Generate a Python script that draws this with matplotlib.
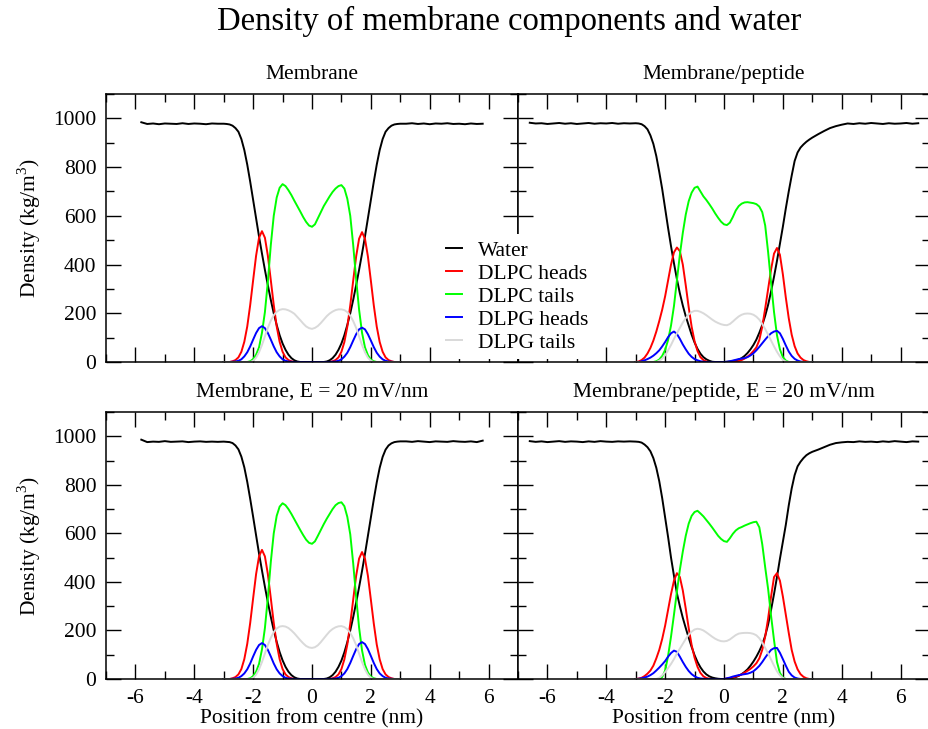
import numpy as np
import matplotlib.pyplot as plt
from matplotlib.lines import Line2D
from matplotlib.ticker import MultipleLocator

plt.rcParams['font.family'] = ['Liberation Serif', 'DejaVu Serif']
plt.rcParams['mathtext.fontset'] = 'custom'
plt.rcParams['mathtext.rm'] = 'Liberation Serif'
plt.rcParams['axes.unicode_minus'] = False

# sample positions (nm from bilayer centre)
x_mid = np.round(np.arange(-3.0, 3.01, 0.1), 1)
x_left_m = np.round(np.arange(-5.8, -3.1, 0.2), 1)
x_right_m = -x_left_m[::-1]
x_left_p = np.round(np.arange(-6.6, -3.1, 0.2), 1)
x_right_p = -x_left_p[::-1]

series_names = ['Water', 'DLPC heads', 'DLPC tails', 'DLPG heads', 'DLPG tails']
series_colors = ['black', 'red', '#00ff00', 'blue', '#d9d9d9']

# ---- Membrane ----
m_water_l = [984, 977, 979, 976, 979, 978, 977, 980, 977, 979, 978, 976, 979, 978]
m_water = [978, 977, 975, 970, 960, 945, 915, 870, 810, 740,
           665, 590, 515, 445, 378, 315, 255, 200, 152, 110,
           76, 50, 30, 16, 7, 2, 0, 0, 0, 0,
           0, 0, 0, 0, 0, 2, 7, 16, 30, 50,
           76, 110, 152, 200, 255, 315, 378, 445, 515, 590,
           665, 740, 810, 870, 915, 945, 960, 970, 975, 977,
           978]
m_water_r = [978, 980, 977, 979, 976, 979, 978, 980, 977, 978, 976, 979, 977, 978]
m_pc_heads = [0, 0, 0, 3, 8, 19, 42, 83, 146, 234,
              336, 436, 510, 537, 510, 436, 336, 234, 146, 83,
              42, 19, 8, 3, 0, 0, 0, 0, 0, 0,
              0, 0, 0, 0, 0, 0, 0, 3, 8, 19,
              42, 82, 145, 232, 334, 433, 506, 533, 506, 433,
              334, 232, 145, 82, 42, 19, 8, 3, 0, 0,
              0]
m_pc_tails = [0, 0, 0, 0, 0, 0, 0, 0, 0, 3,
              12, 30, 60, 120, 205, 330, 480, 600, 675, 715,
              730, 722, 705, 685, 662, 640, 618, 595, 575, 560,
              555, 565, 590, 615, 640, 660, 680, 698, 712, 722,
              726, 712, 670, 600, 480, 340, 215, 120, 60, 28,
              10, 3, 0, 0, 0, 0, 0, 0, 0, 0,
              0]
m_pg_heads = [0, 0, 0, 1, 2, 5, 11, 23, 40, 64,
              92, 119, 139, 147, 139, 119, 92, 64, 40, 23,
              11, 5, 2, 1, 0, 0, 0, 0, 0, 0,
              0, 0, 0, 0, 0, 0, 0, 1, 2, 5,
              11, 22, 38, 61, 88, 114, 134, 141, 134, 114,
              88, 61, 38, 22, 11, 5, 2, 1, 0, 0,
              0]
m_pg_tails = [0, 0, 0, 0, 0, 0, 0, 0, 0, 0,
              5, 18, 40, 70, 105, 140, 170, 192, 206, 214,
              217, 216, 212, 206, 198, 185, 172, 158, 146, 139,
              136, 140, 148, 160, 174, 188, 199, 207, 213, 216,
              216, 213, 205, 190, 168, 140, 105, 70, 40, 18,
              5, 0, 0, 0, 0, 0, 0, 0, 0, 0,
              0]

# ---- Membrane/peptide ----
p_water_l = [982, 979, 980, 977, 979, 981, 978, 980, 977, 979, 981, 978, 980, 979, 981, 978, 980, 979]
p_water = [980, 979, 976, 968, 955, 930, 895, 845, 780, 710,
           630, 550, 475, 405, 340, 282, 232, 188, 150, 112,
           80, 54, 34, 20, 11, 5, 1, 0, 0, 0,
           0, 1, 2, 4, 6, 10, 16, 25, 37, 52,
           70, 92, 120, 152, 190, 235, 290, 350, 415, 485,
           555, 630, 700, 765, 825, 860, 880, 893, 904, 913,
           921]
p_water_r = [935, 948, 960, 968, 974, 979, 977, 980, 978, 981, 979, 977, 980, 978, 979, 981, 978, 980]
p_pc_heads = [0, 2, 8, 18, 35, 58, 88, 125, 168, 215,
              270, 335, 400, 450, 470, 455, 400, 315, 225, 145,
              85, 45, 20, 8, 2, 0, 0, 0, 0, 0,
              0, 0, 0, 0, 2, 4, 8, 14, 22, 32,
              45, 60, 90, 145, 220, 300, 380, 445, 468, 440,
              360, 265, 180, 112, 65, 35, 18, 8, 3, 0,
              0]
p_pc_tails = [0, 0, 0, 0, 0, 0, 0, 3, 10, 25,
              50, 90, 150, 230, 335, 440, 530, 605, 660, 695,
              715, 720, 700, 680, 665, 648, 630, 610, 592, 576,
              565, 562, 572, 595, 622, 640, 650, 655, 656, 654,
              652, 648, 638, 615, 560, 450, 325, 205, 110, 52,
              20, 6, 0, 0, 0, 0, 0, 0, 0, 0,
              0]
p_pg_heads = [0, 0, 3, 7, 12, 18, 26, 36, 48, 64,
              82, 102, 118, 125, 115, 95, 72, 52, 34, 21,
              12, 7, 3, 1, 0, 0, 0, 0, 0, 0,
              0, 1, 3, 6, 9, 12, 14, 16, 20, 27,
              36, 48, 62, 77, 92, 106, 118, 125, 128, 118,
              95, 68, 43, 25, 13, 6, 2, 0, 0, 0,
              0]
p_pg_tails = [0, 0, 0, 0, 0, 0, 0, 0, 5, 14,
              28, 48, 70, 95, 118, 140, 162, 180, 195, 205,
              210, 210, 206, 200, 192, 183, 174, 166, 160, 155,
              152, 151, 156, 166, 177, 187, 194, 198, 199, 198,
              194, 186, 174, 156, 135, 112, 88, 64, 42, 23,
              9, 2, 0, 0, 0, 0, 0, 0, 0, 0,
              0]

# ---- Membrane, E = 20 mV/nm ----
me_water_l = [986, 976, 978, 977, 980, 977, 978, 979, 976, 978, 979, 977, 978, 977]
me_water = [978, 977, 976, 972, 962, 946, 916, 872, 812, 742,
            668, 592, 517, 447, 380, 316, 256, 201, 153, 111,
            77, 50, 30, 16, 7, 2, 0, 0, 0, 0,
            0, 0, 0, 0, 0, 2, 7, 16, 30, 50,
            76, 110, 152, 200, 255, 315, 378, 445, 515, 590,
            665, 740, 810, 870, 915, 945, 962, 971, 976, 978,
            979]
me_water_r = [979, 977, 980, 978, 976, 979, 978, 977, 980, 978, 977, 979, 976, 982]
me_pc_heads = [0, 0, 0, 3, 8, 19, 41, 82, 145, 231,
               333, 432, 505, 532, 505, 432, 333, 231, 145, 82,
               41, 19, 8, 3, 0, 0, 0, 0, 0, 0,
               0, 0, 0, 0, 0, 0, 0, 3, 8, 19,
               41, 81, 142, 228, 327, 425, 496, 523, 496, 425,
               327, 228, 142, 81, 41, 19, 8, 3, 0, 0,
               0]
me_pc_tails = [0, 0, 0, 0, 0, 0, 0, 0, 0, 3,
               12, 30, 62, 122, 210, 335, 482, 600, 672, 710,
               724, 716, 700, 680, 658, 636, 614, 593, 574, 561,
               557, 567, 590, 614, 638, 660, 680, 700, 716, 725,
               728, 712, 668, 596, 476, 338, 212, 118, 58, 27,
               10, 3, 0, 0, 0, 0, 0, 0, 0, 0,
               0]
me_pg_heads = [0, 0, 0, 1, 2, 5, 12, 23, 40, 64,
               93, 120, 140, 148, 140, 120, 93, 64, 40, 23,
               12, 5, 2, 1, 0, 0, 0, 0, 0, 0,
               0, 0, 0, 0, 0, 0, 0, 1, 2, 5,
               12, 23, 41, 66, 95, 123, 144, 152, 144, 123,
               95, 66, 41, 23, 12, 5, 2, 1, 0, 0,
               0]
me_pg_tails = [0, 0, 0, 0, 0, 0, 0, 0, 0, 0,
               5, 18, 40, 70, 105, 140, 170, 193, 208, 216,
               218, 216, 210, 200, 188, 174, 160, 147, 136, 130,
               128, 131, 139, 152, 167, 182, 196, 206, 213, 217,
               218, 214, 205, 190, 168, 140, 105, 70, 40, 18,
               5, 0, 0, 0, 0, 0, 0, 0, 0, 0,
               0]

# ---- Membrane/peptide, E = 20 mV/nm ----
pe_water_l = [980, 977, 979, 976, 978, 980, 977, 979, 978, 976, 979, 977, 980, 978, 977, 979, 978, 979]
pe_water = [978, 977, 974, 966, 955, 938, 910, 870, 815, 745,
            665, 585, 500, 425, 353, 300, 252, 210, 170, 132,
            98, 70, 48, 31, 19, 11, 6, 3, 1, 0,
            0, 1, 3, 5, 8, 13, 20, 29, 40, 55,
            72, 92, 115, 142, 178, 225, 285, 350, 420, 495,
            565, 635, 715, 785, 840, 876, 895, 910, 922, 930,
            936]
pe_water_r = [945, 955, 965, 972, 975, 977, 976, 979, 977, 978, 976, 979, 977, 980, 978, 976, 979, 978]
pe_pc_heads = [0, 2, 5, 12, 22, 35, 55, 85, 120, 165,
               220, 285, 350, 405, 436, 420, 365, 290, 210, 140,
               88, 50, 25, 11, 4, 1, 0, 0, 0, 0,
               0, 2, 4, 7, 10, 14, 19, 26, 34, 42,
               52, 65, 85, 120, 175, 250, 340, 420, 436, 405,
               340, 265, 190, 120, 72, 40, 20, 9, 3, 0,
               0]
pe_pc_tails = [0, 0, 0, 0, 0, 0, 0, 0, 0, 8,
               35, 95, 175, 265, 360, 450, 525, 590, 640, 672,
               688, 693, 682, 670, 655, 640, 624, 607, 590, 577,
               568, 565, 580, 598, 612, 621, 626, 632, 637, 642,
               646, 648, 625, 555, 460, 370, 260, 160, 70, 25,
               6, 0, 0, 0, 0, 0, 0, 0, 0, 0,
               0]
pe_pg_heads = [0, 1, 3, 6, 10, 16, 24, 35, 47, 60,
               74, 92, 107, 117, 112, 92, 70, 50, 33, 20,
               11, 5, 2, 1, 0, 0, 0, 0, 0, 0,
               0, 3, 6, 10, 13, 16, 18, 20, 22, 26,
               32, 42, 54, 70, 88, 105, 120, 127, 128, 108,
               82, 55, 30, 15, 6, 2, 0, 0, 0, 0,
               0]
pe_pg_tails = [0, 0, 0, 0, 0, 0, 0, 0, 5, 15,
               28, 45, 62, 82, 105, 125, 145, 165, 182, 195,
               204, 207, 205, 200, 192, 183, 174, 166, 160, 156,
               155, 157, 163, 172, 181, 187, 189, 190, 190, 189,
               186, 180, 168, 150, 128, 105, 80, 55, 32, 15,
               4, 0, 0, 0, 0, 0, 0, 0, 0, 0,
               0]

W, H = 929, 729
fig = plt.figure(figsize=(W / 100, H / 100), dpi=100)

def px_axes(x0, y0, x1, y1):
    # pixel box (top-left origin) -> axes
    return fig.add_axes([x0 / W, 1 - y1 / H, (x1 - x0) / W, (y1 - y0) / H])

ax_tl = px_axes(106, 94, 518, 362)
ax_bl = px_axes(106, 412, 518, 679)
ax_tr = px_axes(518, 94, 930, 362)
ax_br = px_axes(518, 412, 930, 679)

panels = [
    (ax_tl, 'Membrane', x_left_m, x_right_m,
     [m_water_l, m_water, m_water_r], [m_pc_heads, m_pc_tails, m_pg_heads, m_pg_tails]),
    (ax_tr, 'Membrane/peptide', x_left_p, x_right_p,
     [p_water_l, p_water, p_water_r], [p_pc_heads, p_pc_tails, p_pg_heads, p_pg_tails]),
    (ax_bl, 'Membrane, E = 20 mV/nm', x_left_m, x_right_m,
     [me_water_l, me_water, me_water_r], [me_pc_heads, me_pc_tails, me_pg_heads, me_pg_tails]),
    (ax_br, 'Membrane/peptide, E = 20 mV/nm', x_left_p, x_right_p,
     [pe_water_l, pe_water, pe_water_r], [pe_pc_heads, pe_pc_tails, pe_pg_heads, pe_pg_tails]),
]

lw = 1.4
for ax, title, xl, xr, water, lipids in panels:
    ax.plot(np.concatenate([xl, x_mid, xr]), np.concatenate(water),
            color=series_colors[0], lw=lw)
    for y, c in zip(lipids, series_colors[1:]):
        ax.plot(x_mid, y, color=c, lw=lw)

    ax.set_xlim(-7, 7)
    ax.set_ylim(0, 1100)
    ax.xaxis.set_major_locator(MultipleLocator(2))
    ax.xaxis.set_minor_locator(MultipleLocator(1))
    ax.yaxis.set_major_locator(MultipleLocator(200))
    ax.yaxis.set_minor_locator(MultipleLocator(100))
    ax.tick_params(which='both', direction='in', top=True, right=True,
                   width=1.0, labelsize=15.5, pad=7)
    ax.tick_params(which='major', length=11)
    ax.tick_params(which='minor', length=5.5)
    for sp in ax.spines.values():
        sp.set_linewidth(1.1)
    ax.set_title(title, fontsize=15.5, pad=11)

for ax in (ax_tl, ax_tr):
    ax.tick_params(labelbottom=False)
for ax in (ax_tr, ax_br):
    ax.tick_params(labelleft=False)
for ax in (ax_tl, ax_bl):
    ax.set_ylabel('Density (kg/m$^{\\mathrm{3}}$)', fontsize=15.5, labelpad=7)
for ax in (ax_bl, ax_br):
    ax.set_xlabel('Position from centre (nm)', fontsize=15.5, labelpad=1)

fig.suptitle('Density of membrane components and water', fontsize=23.5,
             x=509 / W, y=1 - 21 / H, va='center')

handles = [Line2D([], [], color=c, lw=lw) for c in series_colors]
fig.legend(handles, series_names, loc='upper left',
           bbox_to_anchor=(440 / W, 1 - 234 / H), frameon=True,
           facecolor='white', edgecolor='none', framealpha=1, fancybox=False,
           fontsize=15.5, handlelength=0.7, handletextpad=0.75,
           labelspacing=0.14, borderaxespad=0, borderpad=0.3)

fig.savefig('out.png', dpi=100)
